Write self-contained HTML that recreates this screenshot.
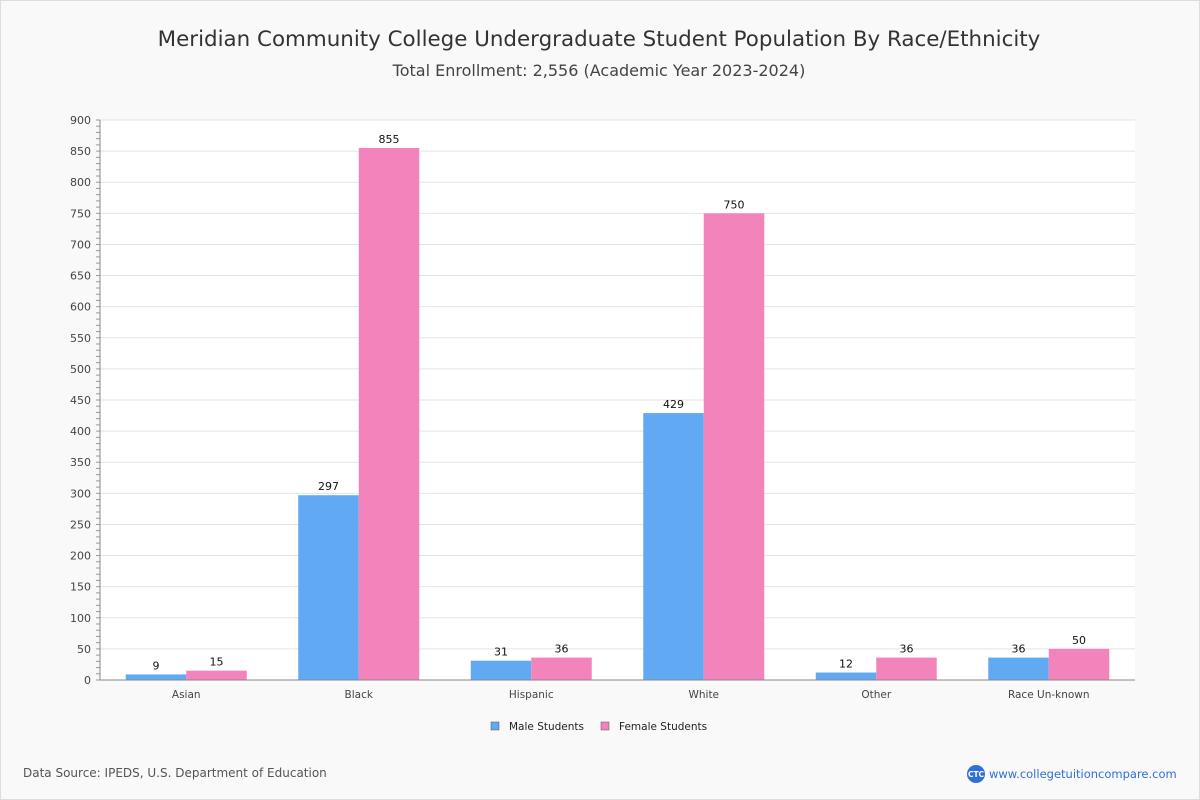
<!DOCTYPE html>
<html><head><meta charset="utf-8"><style>
body{margin:0;background:#fff;font-family:"DejaVu Sans","Liberation Sans",sans-serif}
#wrap{position:relative;width:1198px;height:798px;border:1px solid #ddd;background:#f9f9f9;overflow:hidden}
#chart{position:absolute;left:-1px;top:-1px}
</style></head><body>
<div id="wrap">
<svg id="chart" width="1200" height="800" xmlns="http://www.w3.org/2000/svg">
<text x="599" y="46" text-anchor="middle" font-size="21.4" fill="#333">Meridian Community College Undergraduate Student Population By Race/Ethnicity</text>
<text x="599" y="76" text-anchor="middle" font-size="16" fill="#444">Total Enrollment: 2,556 (Academic Year 2023-2024)</text>
<rect x="100" y="120" width="1035" height="560" fill="#fff"/>
<g id="grid"></g><g id="bars"></g><g id="axis"></g>
<g>
<rect x="491" y="722" width="8" height="8" fill="#62a9f4" stroke="#555" stroke-width="0.5"/>
<text x="509" y="730" font-size="10.5" fill="#222">Male Students</text>
<rect x="601" y="722" width="8" height="8" fill="#f383bb" stroke="#555" stroke-width="0.5"/>
<text x="619" y="730" font-size="10.5" fill="#222">Female Students</text>
</g>
<text x="23" y="777" font-size="12" fill="#555">Data Source: IPEDS, U.S. Department of Education</text>
<circle cx="976" cy="774" r="9" fill="#2e6fd8"/>
<text x="976" y="777" font-size="7.5" fill="#fff" text-anchor="middle" font-weight="bold">CTC</text>
<text x="989" y="778" font-size="11.5" fill="#2e6fd8">www.collegetuitioncompare.com</text>
</svg></div>
<script>
const categories=["Asian","Black","Hispanic","White","Other","Race Un-known"];
const maleValues=[9,297,31,429,12,36];
const femaleValues=[15,855,36,750,36,50];
const yTicks=[0,50,100,150,200,250,300,350,400,450,500,550,600,650,700,750,800,850,900];
const NS="http://www.w3.org/2000/svg";
const X0=100,W=1035,Y0=680,H=560,YMAX=900;
const y=v=>Y0-v/YMAX*H;
const gw=W/categories.length;
function mk(tag,attrs,parent,txt){const e=document.createElementNS(NS,tag);for(const k in attrs)e.setAttribute(k,attrs[k]);if(txt!==undefined)e.textContent=txt;parent.appendChild(e);return e;}
const grid=document.getElementById('grid'),bars=document.getElementById('bars'),axis=document.getElementById('axis');
for(let v=0;v<=YMAX;v+=10){const t=mk('line',{x1:96,x2:100,y1:y(v),y2:y(v),stroke:'#999'},axis);}
yTicks.forEach(v=>{
 const g=mk('line',{x1:X0,x2:X0+W,y1:y(v),y2:y(v),stroke:'#e3e3e3'},grid);
 
 const t=mk('text',{x:91,y:y(v)+4,'text-anchor':'end','font-size':11,fill:'#444'},axis,v);
 
});
mk('line',{x1:X0,x2:X0,y1:120,y2:Y0,stroke:'#888'},axis);
mk('line',{x1:X0,x2:X0+W,y1:Y0,y2:Y0,stroke:'#888'},axis);
categories.forEach((c,i)=>{
 const cx=X0+gw*(i+0.5),bw=60.5;
 [[maleValues[i],'#62a9f4',cx-bw,'male'],[femaleValues[i],'#f383bb',cx,'female']].forEach(([v,col,bx,s])=>{
  const r=mk('rect',{x:bx,y:y(v),width:bw,height:Y0-y(v),fill:col},bars);
  
  
  const l=mk('text',{x:bx+bw/2,y:y(v)-5,'text-anchor':'middle','font-size':11,fill:'#111'},bars,v);
  
 });
 const xl=mk('text',{x:cx,y:698,'text-anchor':'middle','font-size':10.5,fill:'#444'},axis,c);
 
});
</script>
</body></html>
